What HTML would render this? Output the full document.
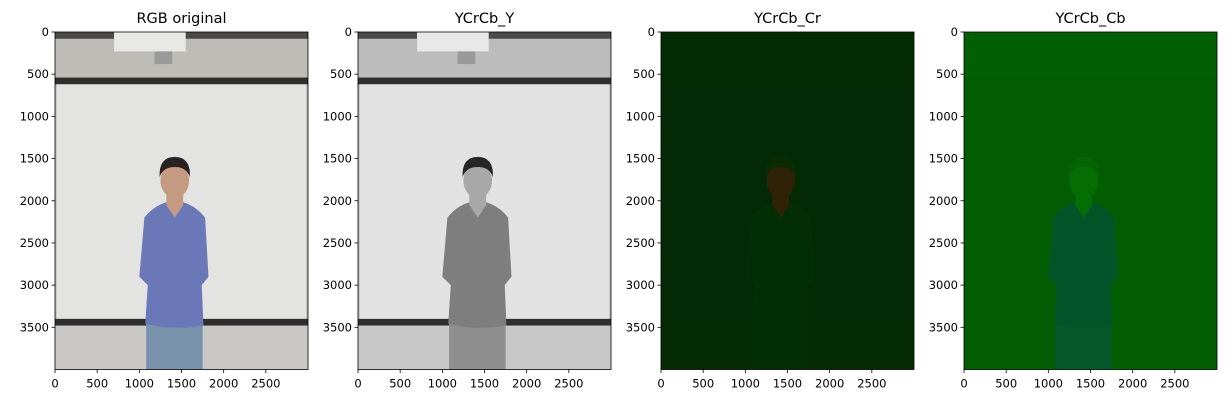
<!DOCTYPE html>
<html><head><meta charset="utf-8">
<style>
body{margin:0;background:#fff;}
svg text{font-family:"DejaVu Sans","Liberation Sans",sans-serif;}
</style></head>
<body>
<svg id="fig" width="1227" height="403" xmlns="http://www.w3.org/2000/svg"></svg>
<script>
const titles = ["RGB original","YCrCb_Y","YCrCb_Cr","YCrCb_Cb"];
const xTicks = [0,500,1000,1500,2000,2500];
const yTicks = [0,500,1000,1500,2000,2500,3000,3500];
const imgW = 3000, imgH = 4000;
const panelLeft = [55,358,661,964];
const palettes = [
 {top:"#4a4a48",ceil:"#bdbcb7",proj:"#e8e8e6",rail:"#2e2e2e",board:"#e3e3e1",floor:"#c9c8c4",hair:"#2a2220",skin:"#c49a82",shirt:"#6a78b8",jeans:"#7a93ad",mount:"#9a9a98"},
 {top:"#4a4a4a",ceil:"#bcbcbc",proj:"#e8e8e8",rail:"#2f2f2f",board:"#e2e2e2",floor:"#c8c8c8",hair:"#262626",skin:"#a8a8a8",shirt:"#7e7e7e",jeans:"#8e8e8e",mount:"#999999"},
 {top:"#032b03",ceil:"#032b03",proj:"#032b03",rail:"#032a03",board:"#032a04",floor:"#032a03",hair:"#0a2c04",skin:"#2e2207",shirt:"#032e05",jeans:"#032e05",mount:"#032b03"},
 {top:"#035f03",ceil:"#035f03",proj:"#035f03",rail:"#035e03",board:"#035e03",floor:"#035e03",hair:"#046404",skin:"#046e05",shirt:"#045429",jeans:"#04582a",mount:"#035f03"}
];
const svg = document.getElementById('fig');
const NS = "http://www.w3.org/2000/svg";
function mk(tag, attrs, parent){const e=document.createElementNS(NS,tag);for(const k in attrs)e.setAttribute(k,attrs[k]);parent.appendChild(e);return e;}
const top0 = 32, axW = 253, axH = 337.5;
for(let p=0;p<4;p++){
  const L = panelLeft[p], c = palettes[p];
  const sx = v => L + v/imgW*axW;
  const sy = v => top0 + v/imgH*axH;
  const g = mk('g',{},svg);
  
  
  const img = mk('g',{transform:`translate(${L},${top0}) scale(${axW/imgW},${axH/imgH})`},g);
  
  
  mk('rect',{x:0,y:0,width:3000,height:4000,fill:c.ceil},img);
  mk('rect',{x:0,y:0,width:3000,height:80,fill:c.top},img);
  mk('rect',{x:700,y:0,width:850,height:230,fill:c.proj},img);
  mk('rect',{x:1180,y:230,width:210,height:150,fill:c.mount},img);
  mk('rect',{x:0,y:540,width:3000,height:80,fill:c.rail},img);
  mk('rect',{x:20,y:620,width:2960,height:2780,fill:c.board},img);
  mk('rect',{x:0,y:3400,width:3000,height:80,fill:c.rail},img);
  mk('rect',{x:0,y:3480,width:3000,height:520,fill:c.floor},img);
  mk('rect',{x:1080,y:3450,width:670,height:550,fill:c.jeans},img);
  mk('path',{d:"M1060 2200 Q1200 2020 1420 2000 Q1640 2020 1780 2200 L1820 2900 L1740 3000 L1760 3480 Q1420 3540 1070 3460 L1100 3000 L1000 2900 Z",fill:c.shirt},img);
  mk('path',{d:"M1320 1850 L1520 1850 L1520 2050 L1420 2200 L1320 2050 Z",fill:c.skin},img);
  mk('ellipse',{cx:1420,cy:1760,rx:170,ry:210,fill:c.skin},img);
  mk('path',{d:"M1240 1720 Q1230 1480 1420 1480 Q1610 1480 1600 1720 Q1560 1600 1420 1600 Q1280 1600 1240 1720 Z",fill:c.hair},img);
  mk('rect',{x:L,y:top0,width:axW,height:axH,fill:"none",stroke:"#000","stroke-width":0.8},g);
  const t = mk('text',{x:L+axW/2,y:23,"text-anchor":"middle","font-size":14.5,fill:"#000"},g);
  t.textContent = titles[p];
  
  
  xTicks.forEach(v=>{
    const x = sx(v);
    mk('line',{x1:x,x2:x,y1:top0+axH,y2:top0+axH+3.5,stroke:"#000","stroke-width":0.8},g);
    const tt = mk('text',{x:x,y:top0+axH+18,"text-anchor":"middle","font-size":11.5,fill:"#000"},g);
    tt.textContent = v;
    
    
  });
  yTicks.forEach(v=>{
    const y = sy(v);
    mk('line',{x1:L-3.5,x2:L,y1:y,y2:y,stroke:"#000","stroke-width":0.8},g);
    const tt = mk('text',{x:L-6,y:y+4,"text-anchor":"end","font-size":11.5,fill:"#000"},g);
    tt.textContent = v;
    
    
  });
}
</script>
</body></html>
